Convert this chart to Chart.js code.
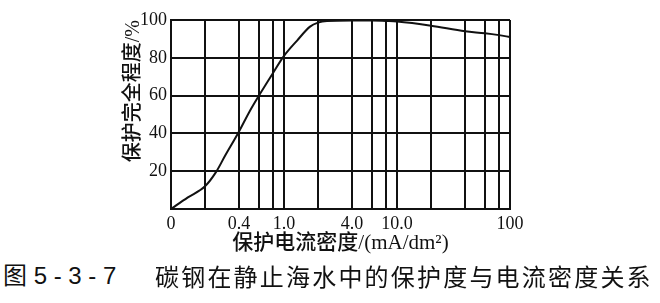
<!DOCTYPE html>
<html>
<head>
<meta charset="utf-8">
<script src="https://cdn.jsdelivr.net/npm/chart.js@4/dist/chart.umd.min.js"></script>
<style>
  body { margin: 0; background: #fff; }
  #wrap { position: relative; width: 660px; height: 303px; }
  #wrap canvas { position: absolute; left: 0; top: 0; }
  .cap {
    position: absolute; top: 262px;
    font-family: "Liberation Sans", "Noto Sans CJK SC", sans-serif; font-size: 24px; color: #111;
    white-space: pre; line-height: 28px;
  }
  #cap2 { letter-spacing: 2.2px; font-family: "Noto Sans CJK SC", sans-serif; }
</style>
</head>
<body>
<div id="wrap">
  <canvas id="myChart" width="660" height="262"></canvas>
  <div class="cap" id="cap1" style="left:3px">图 5 - 3 - 7</div>
  <div class="cap" id="cap2" style="left:155px">碳钢在静止海水中的保护度与电流密度关系</div>
</div>
<script>
// current density (mA/dm2), left edge "0" is drawn at 0.1 on the log axis
var density = [0.1, 0.14, 0.2, 0.25, 0.3, 0.4, 0.5, 0.6, 0.8, 1.0, 1.3, 1.7, 2.0, 2.4, 4.0, 6.0, 8.0, 10, 20, 40, 60, 80, 100];
// protection degree (%)
var protection = [0, 6, 12, 19.5, 28, 41, 52, 60, 72, 81, 89, 96.5, 98.6, 99.5, 99.8, 99.8, 99.5, 99.2, 97, 94, 93, 92, 91];

var xGrid = [0.1, 0.2, 0.4, 0.6, 0.8, 1, 2, 4, 6, 8, 10, 20, 40, 60, 80, 100];
var xLabels = {0.1: '0', 0.4: '0.4', 1: '1.0', 4: '4.0', 10: '10.0', 100: '100'};
var yGrid = [0, 20, 40, 60, 80, 100];

var points = [];
for (var i = 0; i < density.length; i++) {
  points.push({x: density[i], y: protection[i]});
}

var serif = 'Liberation Serif';
var mixed = '"Liberation Serif", "Noto Sans CJK SC", sans-serif';

const config = {
  type: 'line',
  data: {
    datasets: [{
      data: points,
      borderColor: '#111',
      borderWidth: 2,
      pointRadius: 0,
      cubicInterpolationMode: 'monotone',
      fill: false
    }]
  },
  options: {
    responsive: false,
    animation: false,
    layout: { padding: { left: 122, right: 150, top: 20, bottom: 0 } },
    plugins: { legend: { display: false }, tooltip: { enabled: false } },
    scales: {
      x: {
        type: 'logarithmic',
        min: 0.1,
        max: 100,
        afterBuildTicks: function(axis) {
          axis.ticks = xGrid.map(function(v) { return {value: v}; });
        },
        afterFit: function(scale) { scale.height = 53; },
        ticks: {
          autoSkip: false,
          maxRotation: 0,
          padding: 4,
          color: '#111',
          font: { family: serif, size: 18 },
          callback: function(value) {
            return xLabels[value] !== undefined ? xLabels[value] : '';
          }
        },
        grid: { color: '#111', lineWidth: 2, drawTicks: false },
        border: { color: '#111', width: 2 },
        title: {
          display: true,
          text: '保护电流密度/(mA/dm²)',
          color: '#111',
          font: { family: mixed, size: 21, weight: '500' },
          padding: { top: 0, bottom: 6 }
        }
      },
      y: {
        min: 0,
        max: 100,
        afterBuildTicks: function(axis) {
          axis.ticks = yGrid.map(function(v) { return {value: v}; });
        },
        afterFit: function(scale) { scale.width = 171 - 122; },
        ticks: {
          padding: 4,
          color: '#111',
          font: { family: serif, size: 18 },
          callback: function(value) { return value === 0 ? '' : value; }
        },
        grid: { color: '#111', lineWidth: 2, drawTicks: false },
        border: { color: '#111', width: 2 },
        title: {
          display: true,
          align: 'end',
          text: '保护完全程度/%',
          color: '#111',
          font: { family: mixed, size: 20, weight: '500' },
          padding: { top: 0, bottom: 0 }
        }
      }
    }
  }
};

var myChart = new Chart(document.getElementById('myChart'), config);
</script>
</body>
</html>
